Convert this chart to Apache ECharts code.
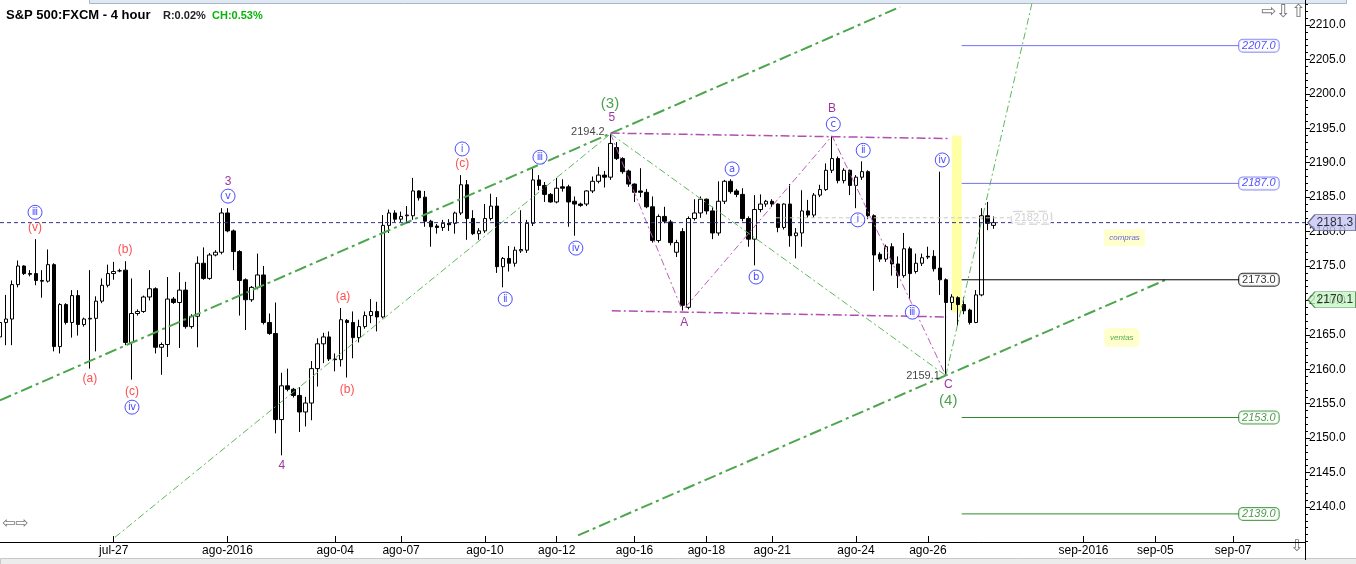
<!DOCTYPE html>
<html><head><meta charset="utf-8">
<script src="https://cdn.jsdelivr.net/npm/echarts@6/dist/echarts.min.js"></script>
<style>html,body{margin:0;padding:0;background:#fff}#c{width:1356px;height:564px}</style>
</head><body><div id="c"></div>
<script>
// ---------- data ----------
const slotCount = 219; // bar slots on the time axis (incl. future space)
const tickIndex  = [19,38,56,67,81,93,106,118,129,143,155,181,193,206];
const tickLabels = ['jul-27','ago-2016','ago-04','ago-07','ago-10','ago-12','ago-16','ago-18','ago-21','ago-24','ago-26','sep-2016','sep-05','sep-07'];
const yLabels = [2140,2145,2150,2155,2160,2165,2170,2175,2180,2185,2190,2195,2200,2205,2210];

const open = [2164.7,2166.8,2167.3,2172.3,2175.0,2173.9,2173.9,2172.9,2172.8,2175.2,
2163.3,2169.4,2166.8,2170.7,2166.5,2167.3,2167.4,2169.9,2172.2,2173.9,
2174.3,2174.4,2163.9,2168.1,2168.4,2170.5,2171.7,2163.2,2163.6,2170.2,
2169.7,2171.5,2166.2,2167.7,2175.4,2173.2,2176.6,2177.0,2182.7,2180.1,
2177.1,2173.0,2170.1,2171.9,2173.7,2166.8,2165.2,2152.7,2157.6,2157.1,
2156.2,2153.8,2155.1,2160.1,2163.7,2164.7,2161.5,2161.4,2167.1,2166.8,
2164.6,2166.2,2167.8,2168.4,2167.6,2180.9,2182.7,2181.8,2182.3,2182.3,
2185.9,2185.0,2181.5,2180.8,2180.6,2181.2,2181.2,2182.7,2186.8,2181.9,
2179.7,2180.1,2181.9,2183.7,2174.9,2176.1,2175.4,2177.2,2177.3,2181.2,
2187.5,2186.7,2185.4,2184.3,2186.5,2186.5,2184.4,2184.0,2184.0,2185.9,
2187.3,2188.2,2187.9,2192.2,2190.6,2188.8,2186.9,2185.9,2185.7,2183.6,
2178.7,2182.2,2181.4,2177.0,2180.0,2169.0,2181.9,2182.7,2184.7,2183.0,
2179.8,2184.4,2187.3,2185.9,2185.4,2181.9,2178.9,2183.2,2184.0,2184.4,
2184.0,2180.6,2184.0,2179.4,2179.8,2183.0,2182.4,2185.3,2186.1,2188.9,
2190.6,2187.4,2188.9,2186.7,2187.9,2188.7,2182.3,2176.7,2176.0,2177.8,
2175.3,2173.6,2177.5,2174.2,2175.4,2176.4,2176.4,2174.7,2173.0,2169.7,
2170.4,2169.4,2168.6,2166.8,2170.8,2182.3,2180.9];
const close = [2166.8,2167.3,2172.3,2175.0,2173.9,2173.8,2172.9,2172.8,2175.2,2163.3,
2169.4,2166.8,2170.7,2166.5,2167.3,2167.4,2169.9,2172.2,2173.9,2174.2,
2174.3,2163.9,2168.1,2168.4,2170.5,2171.7,2163.2,2163.6,2170.2,2169.7,
2171.5,2166.2,2167.7,2175.4,2173.2,2176.6,2177.0,2182.7,2180.1,2177.1,
2172.9,2170.1,2171.9,2173.7,2166.8,2165.2,2152.7,2157.6,2157.1,2156.2,
2153.8,2155.1,2160.1,2163.7,2164.7,2161.5,2161.4,2167.2,2166.8,2164.6,
2166.2,2167.8,2168.4,2167.6,2180.9,2182.7,2181.8,2182.2,2182.4,2185.9,
2184.9,2181.5,2180.7,2180.6,2181.2,2181.0,2182.7,2186.8,2181.9,2179.7,
2180.1,2181.9,2183.7,2174.9,2176.1,2175.4,2177.3,2177.4,2181.2,2187.5,
2186.7,2185.4,2184.3,2186.3,2186.3,2184.3,2184.0,2183.8,2185.9,2187.3,
2188.2,2187.9,2192.8,2190.6,2188.7,2186.9,2185.7,2185.7,2183.6,2178.7,
2182.2,2181.5,2178.4,2178.4,2169.3,2181.9,2182.7,2184.7,2183.0,2179.8,
2184.4,2187.3,2185.8,2185.4,2181.9,2178.9,2183.2,2184.0,2184.4,2184.0,
2180.6,2184.0,2179.4,2179.8,2183.0,2182.4,2185.3,2186.1,2188.9,2190.6,
2187.4,2188.9,2186.7,2187.9,2188.7,2182.3,2176.6,2176.0,2177.8,2175.3,
2173.6,2177.5,2173.9,2175.4,2176.2,2176.3,2174.6,2173.0,2169.7,2170.5,
2169.4,2168.5,2166.8,2170.8,2182.3,2181.2,2181.3];
const high = [2167.6,2170.8,2172.9,2175.8,2175.1,2174.4,2178.9,2174.4,2177.4,2175.4,
2169.6,2169.6,2171.5,2171.5,2167.5,2174.4,2170.6,2173.2,2175.2,2175.6,
2174.6,2175.7,2173.2,2168.7,2170.7,2174.4,2171.9,2163.9,2173.4,2170.5,
2174.1,2172.7,2168.0,2176.4,2177.7,2176.9,2177.3,2183.4,2183.4,2180.3,
2177.3,2173.2,2172.1,2176.8,2175.0,2168.1,2169.7,2159.5,2160.1,2157.3,
2157.4,2156.0,2161.2,2164.5,2165.3,2165.5,2162.3,2168.9,2167.3,2168.4,
2167.2,2168.4,2170.2,2169.8,2182.4,2183.2,2183.1,2182.9,2183.7,2187.8,
2186.0,2185.9,2181.7,2181.1,2181.7,2181.8,2182.9,2188.2,2187.5,2183.1,
2180.5,2184.0,2185.5,2185.0,2176.3,2177.9,2177.8,2183.1,2181.7,2189.2,
2188.2,2187.2,2185.6,2187.8,2187.6,2186.8,2185.1,2184.2,2186.0,2188.0,
2189.4,2188.8,2194.2,2193.0,2190.8,2189.0,2187.0,2189.2,2186.2,2185.1,
2182.5,2183.6,2181.7,2178.8,2180.5,2182.2,2184.7,2185.1,2184.8,2183.6,
2187.3,2187.5,2187.6,2186.2,2186.3,2182.2,2185.3,2185.4,2184.6,2184.7,
2184.1,2184.1,2186.9,2180.5,2186.0,2184.6,2185.6,2186.8,2189.9,2193.9,
2190.9,2189.2,2189.0,2188.2,2190.2,2188.9,2182.5,2177.0,2178.1,2178.3,
2176.4,2179.8,2177.8,2176.8,2176.8,2177.8,2177.3,2188.7,2173.2,2170.9,
2170.6,2170.5,2168.8,2171.5,2183.4,2184.3,2182.2];
const low = [2162.3,2163.5,2163.5,2171.9,2173.7,2173.5,2172.2,2170.4,2172.6,2162.6,
2162.3,2166.5,2164.6,2164.9,2166.2,2160.1,2162.6,2169.6,2171.9,2173.0,
2174.1,2163.5,2158.5,2167.8,2168.2,2170.0,2162.3,2159.2,2161.8,2169.5,
2163.1,2165.9,2165.9,2163.2,2173.0,2173.0,2176.4,2176.7,2179.9,2174.4,
2167.8,2165.7,2169.8,2171.6,2166.5,2165.0,2150.7,2147.5,2156.8,2155.9,
2150.9,2151.7,2152.6,2157.5,2160.9,2161.2,2159.7,2160.4,2158.8,2161.6,
2163.9,2165.9,2166.7,2165.5,2167.4,2179.8,2181.4,2181.4,2181.2,2181.7,
2184.5,2180.7,2177.8,2179.7,2180.1,2180.1,2179.7,2182.4,2178.8,2179.5,
2178.8,2179.8,2181.6,2174.0,2171.9,2174.2,2174.9,2176.9,2176.9,2180.8,
2186.0,2184.3,2184.2,2184.1,2185.8,2180.7,2179.4,2183.6,2183.7,2185.6,
2187.0,2186.4,2187.5,2190.4,2188.4,2186.5,2184.3,2185.0,2183.4,2178.4,
2178.4,2181.2,2178.0,2176.3,2168.5,2168.7,2181.6,2182.0,2182.5,2178.9,
2179.4,2184.0,2185.5,2185.0,2181.5,2177.8,2175.1,2182.8,2183.6,2183.6,
2179.9,2180.3,2177.8,2176.1,2177.8,2182.0,2182.0,2185.0,2185.9,2188.5,
2187.0,2187.0,2185.3,2183.4,2187.5,2181.8,2171.4,2175.6,2175.6,2173.6,
2171.8,2173.3,2170.2,2173.9,2175.0,2176.0,2174.2,2170.8,2159.1,2168.6,
2166.3,2168.0,2166.5,2166.7,2170.6,2180.2,2180.4];

const lastPrice = 2181.3;
const greenTagPrice = 2170.1;
const prevLevel = 2182.0;
const targetPrices = [2207.0, 2187.0, 2173.0, 2153.0, 2139.0];

// wave-count labels (bar slot, price, text, kind)
const waveX = [5.85,5.85,20.9,15.0,22.05,22.05,38.1,38.1,47.1,57.3,58.0,77.2,77.2,90.2,84.4,96.2,101.9,102.2,98.2,122.3,126.3,114.3,139.0,139.2,144.2,143.3,152.4,157.4,154.2,158.4,158.4];
const waveY = [2182.8,2180.5,2177.3,2158.7,2156.8,2154.5,2187.3,2185.15,2146.05,2170.5,2157.0,2192.0,2189.8,2190.8,2170.2,2177.6,2198.5,2196.5,2194.45,2189.1,2173.4,2166.7,2197.9,2195.6,2191.8,2181.7,2168.3,2190.4,2159.1,2157.7,2155.35];
const waveText = ['ⅲ','(v)','(b)','(a)','(c)','ⅳ','3','ⅴ','4','(a)','(b)','ⅰ','(c)','ⅲ','ⅱ','ⅳ','(3)','5','2194.2','a','b','A','B','c','ⅱ','ⅰ','ⅲ','ⅳ','2159.1','C','(4)'];
const waveKind = ['c','r','r','r','r','c','p','c','p','r','r','c','r','c','c','c','g','p','k','c','c','p','p','c','c','c','c','c','k','p','g'];

// trend lines (slot, price)
const channelLines = [[[0,2155.5],[150.35,2212.62]], [[96.56,2135.88],[194.6,2172.94]]];
const thinLines = [[[19.2,2135.6],[102,2194.2]], [[102,2194.2],[158,2159.1]], [[158,2159.1],[172.4,2213.2]]];
const abcPath = [[102,2194.2],[114,2168.5],[139,2193.9],[158,2159.1]];
const abcBounds = [[[102,2194.3],[158.7,2193.5]], [[102.2,2168.5],[158.2,2167.6]]];
const highlightBox = [[159.0,2193.9],[160.65,2168.3]];
const targetSpan = [160.65, 207.15, 210.3];
const prevSpan = [129.6, 168.7, 172.3];
const noteX = [187.85, 187.4];
const noteY = [2179.1, 2164.6];
const noteText = ['compras', 'ventas'];
const tagX = 222.5;

// ---------- chart ----------
const Y_MIN = 2134.92, Y_MAX = 2213.63;
const FONT = '"Liberation Sans", Arial, sans-serif';
const categories = Array.from({length: slotCount}, (_, i) => String(i));
const tickMap = {}; tickIndex.forEach((k, j) => { tickMap[k] = tickLabels[j]; });
const isTick = (i) => tickMap[i] !== undefined;
const minorTicks = []; for (let v = 2135; v <= 2213; v++) minorTicks.push(v);
const candles = open.map((o, i) => [o, close[i], low[i], high[i]]);

const series = [];
series.push({
  type: 'candlestick', xAxisIndex: 0, yAxisIndex: 0, data: candles, barWidth: 4, z: 2, silent: true,
  itemStyle: { color: '#ffffff', color0: '#000000', borderColor: '#000000', borderColor0: '#000000', borderWidth: 1 }
});
function seg(pts, color, width, dash, z) {
  return { type: 'line', xAxisIndex: 1, yAxisIndex: 0, data: pts, symbol: 'none', silent: true, z: z || 3,
    lineStyle: { color: color, width: width, type: dash }, animation: false };
}
// yellow highlight
series.push({ type: 'line', xAxisIndex: 1, yAxisIndex: 0, data: highlightBox, symbol: 'none', silent: true, z: 4,
  lineStyle: { opacity: 0 },
  markArea: { silent: true, itemStyle: { color: 'rgba(255,255,130,0.72)' },
    data: [[{ coord: highlightBox[0] }, { coord: highlightBox[1] }]] } });
channelLines.forEach(l => series.push(seg(l, '#4da64d', 2, [12,4,3,4])));
thinLines.forEach(l => series.push(seg(l, '#5cb85c', 1, [7,3,2,3])));
series.push(seg(abcPath, '#bb5ebb', 1, [7,3,2,3]));
abcBounds.forEach(l => series.push(seg(l, '#b04fb0', 1.5, [9,3,2,3])));
series.push(seg([[0,lastPrice],[slotCount-1,lastPrice]], '#33338a', 1, [4,3]));
series.push(seg([[prevSpan[0],prevLevel],[prevSpan[1],prevLevel]], '#c8c8c8', 1, [4,3]));
const tColors = ['#7373f0','#7373f0','#000000','#2b8c2b','#2b8c2b'];
const tText = ['#2424ff','#2424ff','#000000','#1f7f1f','#1f7f1f'];
targetPrices.forEach((p, i) => series.push(seg([[targetSpan[0],p],[targetSpan[1],p]], tColors[i], 1, 'solid')));

// labels
const lab = [];
const kindStyle = {
  c: { symbol: 'circle', symbolSize: 14, itemStyle: { color: '#ffffff', borderColor: '#2020ff', borderWidth: 1 },
       label: { color: '#1a1aff', fontSize: 10, fontFamily: '"DejaVu Sans", sans-serif' } },
  r: { label: { color: '#ff2222', fontSize: 12 } },
  p: { label: { color: '#850085', fontSize: 12 } },
  g: { label: { color: '#1f8a1f', fontSize: 15 } },
  k: { label: { color: '#111111', fontSize: 11 } }
};
waveText.forEach((t, i) => {
  const st = kindStyle[waveKind[i]];
  lab.push({
    value: [waveX[i], waveY[i]],
    symbol: st.symbol || 'circle', symbolSize: st.symbolSize || 0,
    itemStyle: st.itemStyle || { color: 'transparent' },
    label: Object.assign({ show: true, position: 'inside', formatter: t, fontFamily: FONT }, st.label)
  });
});
targetPrices.forEach((p, i) => lab.push({
  value: [targetSpan[2], p], symbolSize: 0, itemStyle: { color: 'transparent' },
  label: { show: true, position: 'inside', formatter: p.toFixed(1), fontFamily: FONT, fontSize: 11,
    fontStyle: i === 2 ? 'normal' : 'italic', color: tText[i], backgroundColor: '#ffffff',
    borderColor: tColors[i], borderWidth: 1, borderRadius: 4, padding: [1, 3, 0, 3] }
}));
lab.push({ value: [prevSpan[2], prevLevel], symbolSize: 0, itemStyle: { color: 'transparent' },
  label: { show: true, position: 'inside', formatter: prevLevel.toFixed(1), fontFamily: FONT, fontSize: 11,
    color: '#c4c4c4', backgroundColor: '#ffffff', borderColor: '#c4c4c4', borderWidth: 1, borderType: 'dashed',
    borderRadius: 3, padding: [1, 3, 0, 3] } });
noteText.forEach((t, i) => lab.push({ value: [noteX[i], noteY[i]], symbolSize: 0, itemStyle: { color: 'transparent' },
  label: { show: true, position: 'inside', formatter: t, fontFamily: FONT, fontSize: 8, fontStyle: 'italic',
    color: i === 0 ? '#3a3ad0' : '#2e962e', backgroundColor: '#ffffc2', borderRadius: i === 0 ? 0 : 5,
    padding: i === 0 ? [5, 5, 4, 5] : [6, 6, 5, 6] } }));
const tagPath = 'path://M0,8L7,0L48,0L48,16L7,16Z';
[[lastPrice, '#c6c6f6', '#50507a'], [greenTagPrice, '#c6f6c6', '#3c7a3c']].forEach(([p, fill, stroke]) => lab.push({
  value: [tagX, p], symbol: tagPath, symbolSize: [48, 16], symbolKeepAspect: false,
  itemStyle: { color: fill, borderColor: stroke, borderWidth: 1 },
  label: { show: true, position: 'inside', formatter: p.toFixed(1), fontFamily: FONT, fontSize: 12, color: '#000', offset: [3, 0] }
}));
series.push({ type: 'scatter', xAxisIndex: 1, yAxisIndex: 0, data: lab, z: 6, clip: false, silent: true, animation: false });

const gridBox = { left: 0, right: 51, top: 0, bottom: 22, containLabel: false, outerBoundsMode: 'none' };
const option = {
  animation: false,
  backgroundColor: '#ffffff',
  textStyle: { fontFamily: FONT },
  grid: [Object.assign({}, gridBox), Object.assign({}, gridBox)],
  xAxis: [{
    type: 'category', gridIndex: 0, data: categories, boundaryGap: false, position: 'bottom',
    axisLine: { show: true, onZero: false, lineStyle: { color: '#000', width: 1 } },
    axisTick: { show: true, inside: true, length: 6, interval: (i) => isTick(i), lineStyle: { color: '#000' } },
    axisLabel: { show: true, interval: (i) => isTick(i), formatter: (v) => tickMap[+v] || '', color: '#000', fontSize: 12, margin: 3, fontFamily: FONT },
    splitLine: { show: false }
  }, {
    type: 'value', gridIndex: 0, min: 0, max: slotCount - 1, show: false, axisLine: { onZero: false }, splitLine: { show: false }
  }, {
    type: 'value', gridIndex: 1, min: 0, max: slotCount - 1, show: false, axisLine: { onZero: false }, splitLine: { show: false }
  }],
  yAxis: [{
    type: 'value', gridIndex: 0, position: 'right', min: Y_MIN, max: Y_MAX,
    axisLine: { show: true, onZero: false, lineStyle: { color: '#000', width: 1 } },
    axisTick: { show: true, length: 5, customValues: yLabels, lineStyle: { color: '#000' } },
    axisLabel: { show: true, customValues: yLabels, formatter: (v) => Number(v).toFixed(1), color: '#000', fontSize: 12, margin: 4, fontFamily: FONT },
    splitLine: { show: false }
  }, {
    type: 'value', gridIndex: 1, position: 'right', min: Y_MIN, max: Y_MAX,
    axisLine: { show: false, onZero: false },
    axisTick: { show: true, length: 3, customValues: minorTicks, lineStyle: { color: '#000' } },
    axisLabel: { show: false }, splitLine: { show: false }
  }],
  series: series,
  graphic: [
    { type: 'rect', left: 89, top: -1, shape: { width: 1257, height: 4 }, style: { fill: '#dfe8f3', stroke: '#a9b8c8' }, silent: true },
    { type: 'rect', left: 0, top: 558, shape: { width: 1356, height: 8 }, style: { fill: '#ececec', stroke: '#c8c8c8' }, silent: true },
    { type: 'line', shape: { x1: 1305.5, y1: 542, x2: 1305.5, y2: 560 }, style: { stroke: '#000', lineWidth: 1 }, silent: true },
    { type: 'text', left: 6, top: 9, style: { text: 'S&P 500:FXCM - 4 hour', font: 'bold 13px "Liberation Sans", Arial, sans-serif', fill: '#000' } },
    { type: 'text', left: 163, top: 10, style: { text: 'R:0.02%', font: 'bold 11px "Liberation Sans", Arial, sans-serif', fill: '#222' } },
    { type: 'text', left: 212, top: 10, style: { text: 'CH:0.53%', font: 'bold 11px "Liberation Sans", Arial, sans-serif', fill: '#08b408' } },
    { type: 'text', left: 1261, top: 3, style: { text: '⇨⇩⇧', font: '18px "DejaVu Sans", sans-serif', fill: '#7a7a7a' } },
    { type: 'text', left: 2, top: 516, style: { text: '⇦⇨', font: '16px "DejaVu Sans", sans-serif', fill: '#7a7a7a' } },
    { type: 'text', left: 1290, top: 539, style: { text: '⇩', font: '16px "DejaVu Sans", sans-serif', fill: '#7a7a7a' } }
  ]
};
const chart = echarts.init(document.getElementById('c'), null, { renderer: 'canvas' });
chart.setOption(option);
</script>
</body></html>
